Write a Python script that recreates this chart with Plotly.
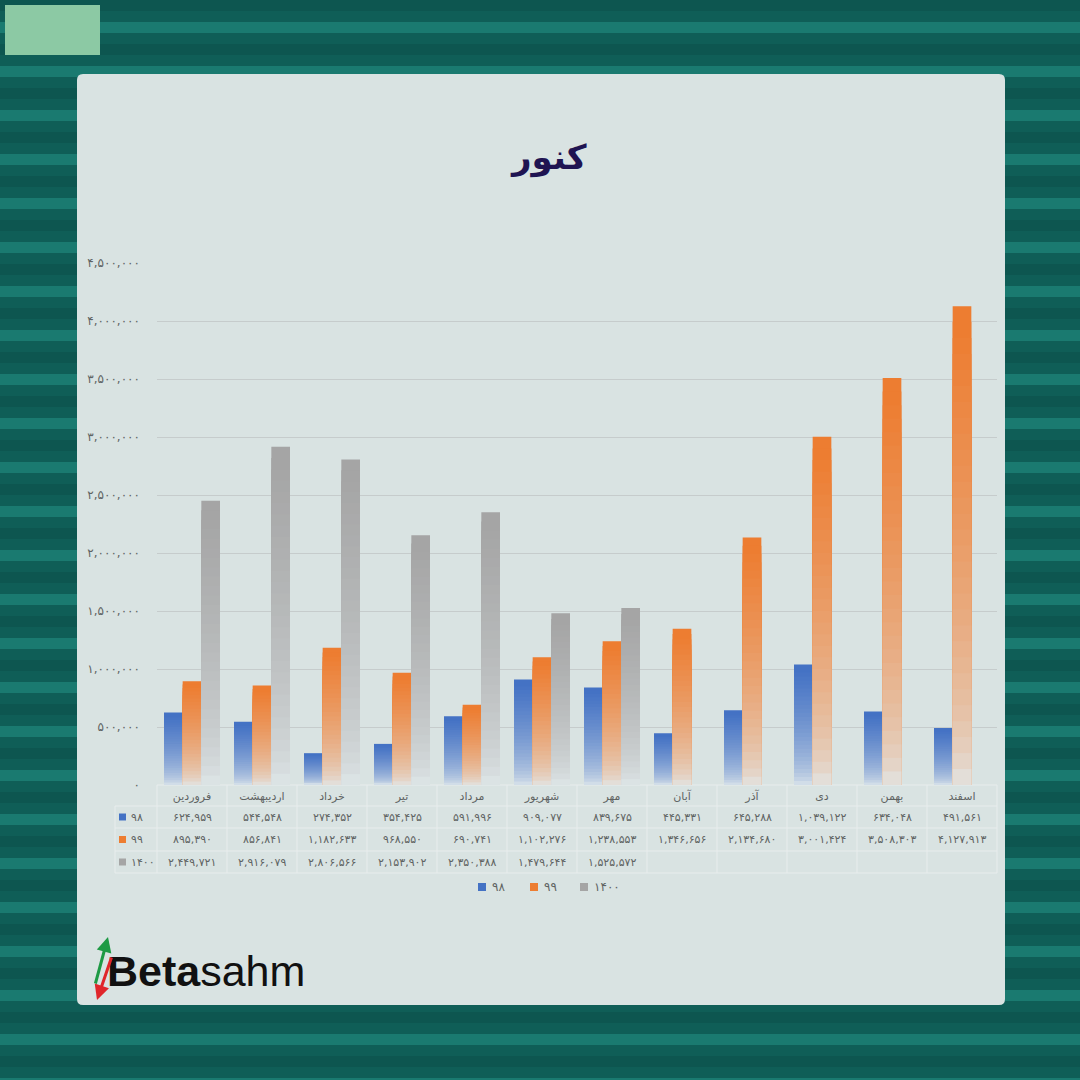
import plotly.graph_objects as go

# ---------------- data ----------------
months = ["فروردین", "اردیبهشت", "خرداد", "تیر", "مرداد", "شهریور",
          "مهر", "آبان", "آذر", "دی", "بهمن", "اسفند"]
series_names = ["۹۸", "۹۹", "۱۴۰۰"]
v98 = [624959, 544548, 274352, 354425, 591996, 909077,
       839675, 445331, 645288, 1039122, 634048, 491561]
v99 = [895390, 856841, 1182633, 968550, 690741, 1102276,
       1238553, 1346656, 2134680, 3001424, 3508303, 4127913]
v1400 = [2449721, 2916079, 2806566, 2153902, 2350388, 1479644,
         1525572, None, None, None, None, None]
y_ticks = [0, 500000, 1000000, 1500000, 2000000, 2500000,
           3000000, 3500000, 4000000, 4500000]
title_text = "کنور"

# ---------------- styling ----------------
colors = ["#4472C4", "#ED7D31", "#A5A5A5"]
fade_to = (226, 234, 236)
N = 30
W = H = 1080
PANEL = "#d9e3e2"
TXT = "#5f6363"
FA = "DejaVu Sans, Noto Sans, sans-serif"


def fa(n):
    if n is None:
        return ""
    return f"{n:,}".translate(str.maketrans("0123456789", "۰۱۲۳۴۵۶۷۸۹"))


def hex2rgb(h):
    h = h.lstrip("#")
    return tuple(int(h[i:i + 2], 16) for i in (0, 2, 4))


def mix(c, t):
    a = hex2rgb(c)
    return "rgb(%d,%d,%d)" % tuple(round(fade_to[i] + (a[i] - fade_to[i]) * t) for i in range(3))


def px(x):
    return x / W


def py(y):
    return 1 - y / H


fig = go.Figure()

all_series = [v98, v99, v1400]
for s, (name, vals, col) in enumerate(zip(series_names, all_series, colors)):
    for k in range(N - 1, -1, -1):
        t = (k + 0.5) / N
        f = min(1.0, (t ** 0.55) * 1.03)
        yk = [None if v is None else v * (k + 1) / N for v in vals]
        fig.add_trace(go.Bar(
            x=months, y=yk, name=name, offsetgroup=name, legendgroup=name,
            showlegend=False,
            marker=dict(color=col if k == N - 1 else mix(col, f), line=dict(width=0)),
            hoverinfo="skip" if k != N - 1 else None,
        ))

X0, X1 = 157, 997
Y0, Y1 = 785, 263

fig.update_layout(
    width=W, height=H,
    margin=dict(l=0, r=0, t=0, b=0),
    paper_bgcolor="#0f5e57",
    plot_bgcolor="rgba(0,0,0,0)",
    barmode="group", bargap=0.2, bargroupgap=0,
    font=dict(family=FA, color=TXT, size=11),
    xaxis=dict(domain=[px(X0), px(X1)], showgrid=False, zeroline=False,
               showline=False, ticks="", tickfont=dict(size=11, color=TXT, family=FA),
               ticklabelstandoff=3, fixedrange=True, automargin=False),
    yaxis=dict(domain=[py(Y0), py(Y1)], range=[0, 4500000],
               tickvals=y_ticks, ticktext=[fa(v) for v in y_ticks],
               tickfont=dict(size=12, color=TXT, family=FA),
               showgrid=True, gridcolor="#c6cccc", gridwidth=1, automargin=False,
               zeroline=False, showline=False, ticks="", ticklabelstandoff=16),
    showlegend=False,
)

shapes = []
# background stripes (decoration evoking the photo)
for i in range(0, 50):
    yy = i * 22
    shapes.append(dict(type="rect", xref="paper", yref="paper", layer="below",
                       x0=0, x1=1, y0=py(yy + 11), y1=py(yy),
                       fillcolor="#1a7a70" if i % 2 else "#0d5650", line=dict(width=0)))
shapes.append(dict(type="rect", xref="paper", yref="paper", layer="below",
                   x0=px(5), x1=px(100), y0=py(55), y1=py(5),
                   fillcolor="#8cc9a4", line=dict(width=0)))
# panel with rounded corners
r = 6
x0p, y0p, x1p, y1p = px(77), py(74), px(1005), py(1005)
rx, ry = r / W, r / H
path = (f"M {x0p+rx},{y0p} L {x1p-rx},{y0p} Q {x1p},{y0p} {x1p},{y0p-ry} "
        f"L {x1p},{y1p+ry} Q {x1p},{y1p} {x1p-rx},{y1p} L {x0p+rx},{y1p} "
        f"Q {x0p},{y1p} {x0p},{y1p+ry} L {x0p},{y0p-ry} Q {x0p},{y0p} {x0p+rx},{y0p} Z")
shapes.append(dict(type="path", xref="paper", yref="paper", layer="below", path=path,
                   fillcolor=PANEL, line=dict(width=0)))

# data table grid
LINE = "#e8eded"
row_edges = [785, 806, 828, 851, 873]
cat_w = (X1 - X0) / len(months)
for j, yy in enumerate(row_edges):
    xs = X0 if j == 0 else 115
    shapes.append(dict(type="line", xref="paper", yref="paper", layer="below",
                       x0=px(xs), x1=px(X1), y0=py(yy), y1=py(yy), line=dict(color=LINE, width=1)))
for i in range(len(months) + 1):
    xx = X0 + i * cat_w
    shapes.append(dict(type="line", xref="paper", yref="paper", layer="below",
                       x0=px(xx), x1=px(xx), y0=py(785), y1=py(873), line=dict(color=LINE, width=1)))
shapes.append(dict(type="line", xref="paper", yref="paper", layer="below",
                   x0=px(115), x1=px(115), y0=py(806), y1=py(873), line=dict(color=LINE, width=1)))

annotations = []
row_centers = [817, 839.5, 862]
for name, vals, col, yc in zip(series_names, all_series, colors, row_centers):
    shapes.append(dict(type="rect", xref="paper", yref="paper", layer="above",
                       x0=px(119), x1=px(126), y0=py(yc + 3.5), y1=py(yc - 3.5),
                       fillcolor=col, line=dict(width=0)))
    annotations.append(dict(text=name, xref="paper", yref="paper", x=px(129), y=py(yc),
                            xanchor="left", yanchor="middle", showarrow=False,
                            font=dict(size=11, color=TXT, family=FA)))
    for m, v in zip(months, vals):
        annotations.append(dict(text=fa(v), xref="x", yref="paper", x=m, y=py(yc),
                                xanchor="center", yanchor="middle", showarrow=False,
                                font=dict(size=11, color=TXT, family=FA)))

# manual legend
leg_x = [478, 530, 580]
for name, col, lx in zip(series_names, colors, leg_x):
    shapes.append(dict(type="rect", xref="paper", yref="paper", layer="above",
                       x0=px(lx), x1=px(lx + 8), y0=py(891), y1=py(883),
                       fillcolor=col, line=dict(width=0)))
    annotations.append(dict(text=name, xref="paper", yref="paper", x=px(lx + 12), y=py(887),
                            xanchor="left", yanchor="middle", showarrow=False,
                            font=dict(size=12, color=TXT, family=FA)))

# title
annotations.append(dict(text="<b>" + title_text + "</b>", xref="paper", yref="paper",
                        x=px(548), y=py(158), xanchor="center", yanchor="middle", showarrow=False,
                        font=dict(size=34, color="#1f1452", family=FA)))

# logo
annotations.append(dict(text="<b>Beta</b>sahm", xref="paper", yref="paper",
                        x=px(105), y=py(971), xanchor="left", yanchor="middle", showarrow=False,
                        font=dict(size=43, color="#111111", family="Liberation Sans, Arial, sans-serif")))
annotations.append(dict(text="", xref="paper", yref="paper",
                        x=px(108), y=py(937), ax=-13, ay=48, showarrow=True,
                        arrowhead=2, arrowsize=1, arrowwidth=3, arrowcolor="#1e9a45"))
annotations.append(dict(text="", xref="paper", yref="paper",
                        x=px(97), y=py(1000), ax=15, ay=-44, showarrow=True,
                        arrowhead=2, arrowsize=1, arrowwidth=3, arrowcolor="#e0262a"))

fig.update_layout(shapes=shapes, annotations=annotations)
fig.write_html("out.html", config={"displayModeBar": False},
               post_script="document.body.style.margin='0';document.body.style.padding='0';"
                           "document.body.style.overflow='hidden';")
